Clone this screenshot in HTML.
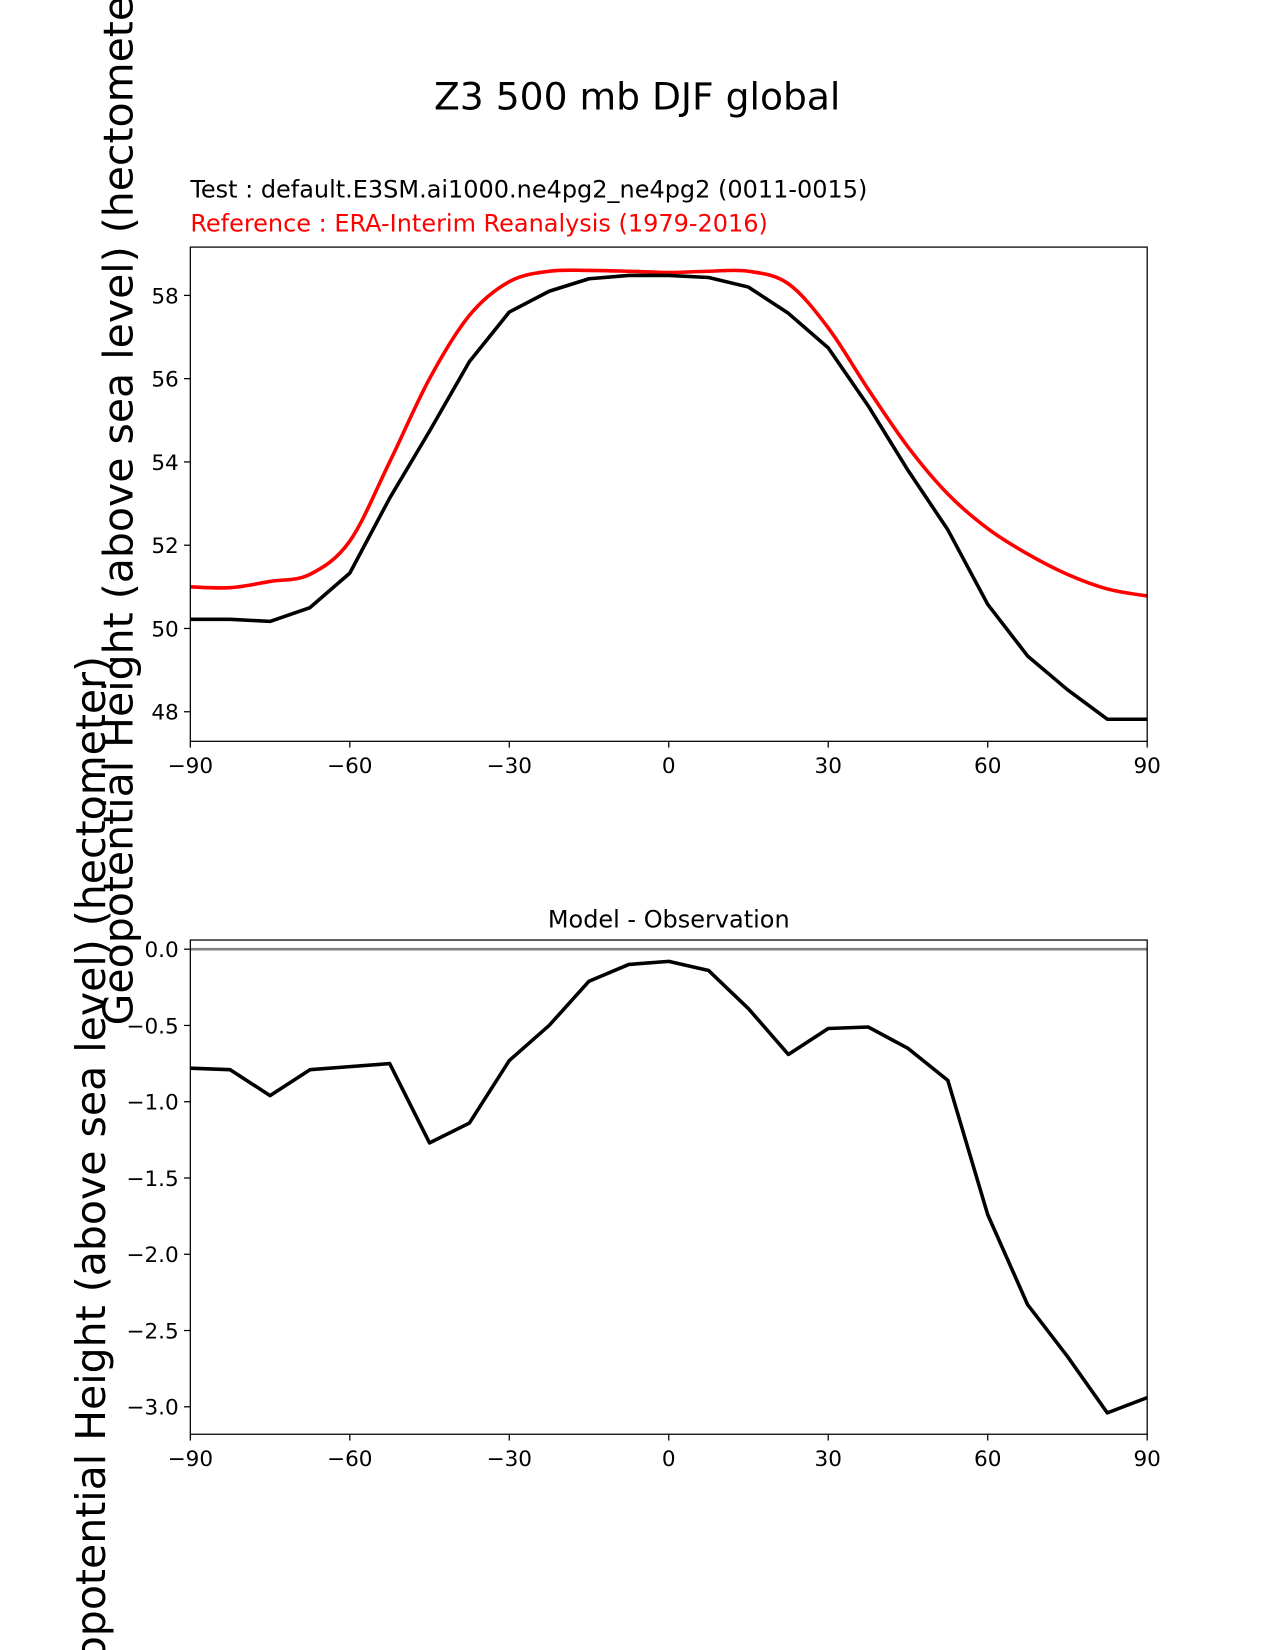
<!DOCTYPE html>
<html><head><meta charset="utf-8"><style>body{margin:0;background:#fff}svg{display:block}</style></head>
<body>
<svg id="fig" width="1275" height="1650" xmlns="http://www.w3.org/2000/svg" font-family="DejaVu Sans, Liberation Sans, sans-serif">
<rect width="1275" height="1650" fill="#fff"/>
<g transform="scale(1.0515)">
<text x="606" y="104" font-size="35.8" text-anchor="middle">Z3 500 mb DJF global</text>
<text x="181" y="188" font-size="22.8">Test : default.E3SM.ai1000.ne4pg2_ne4pg2 (0011-0015)</text>
<text x="181" y="220" font-size="22.8" fill="#ff0000">Reference : ERA-Interim Reanalysis (1979-2016)</text>
<text x="636" y="882" font-size="22.8" text-anchor="middle">Model - Observation</text>
<text transform="translate(126,470) rotate(-90)" font-size="39" text-anchor="middle">Geopotential Height (above sea level) (hectometer)</text>
<text transform="translate(100,1129) rotate(-90)" font-size="39" text-anchor="middle">Geopotential Height (above sea level) (hectometer)</text>
<g id="top"></g><g id="bot"></g>
</g>
</svg>
<script>
const lats = [-90,-82.5,-75,-67.5,-60,-52.5,-45,-37.5,-30,-22.5,-15,-7.5,0,7.5,15,22.5,30,37.5,45,52.5,60,67.5,75,82.5,90];
const testVals = [50.22,50.22,50.17,50.5,51.33,53.13,54.74,56.41,57.6,58.1,58.4,58.48,58.48,58.43,58.2,57.57,56.74,55.35,53.8,52.37,50.58,49.34,48.53,47.82,47.82];
const refVals = [51.0,50.98,51.13,51.3,52.1,54.0,56.0,57.52,58.33,58.58,58.6,58.58,58.55,58.58,58.58,58.28,57.22,55.75,54.36,53.23,52.4,51.79,51.3,50.95,50.78];
const diffVals = [-0.78,-0.79,-0.96,-0.79,-0.77,-0.75,-1.27,-1.14,-0.73,-0.5,-0.21,-0.1,-0.08,-0.14,-0.39,-0.69,-0.52,-0.51,-0.65,-0.86,-1.74,-2.33,-2.67,-3.04,-2.94];
const xTicks = [-90,-60,-30,0,30,60,90];
const xTickLabels = ["\u221290","\u221260","\u221230","0","30","60","90"];
const topYTicks = [48,50,52,54,56,58];
const botYTicks = [0,-0.5,-1,-1.5,-2,-2.5,-3];
const botYTickLabels = ["0.0","\u22120.5","\u22121.0","\u22121.5","\u22122.0","\u22122.5","\u22123.0"];
const NS="http://www.w3.org/2000/svg";
function mk(g,t,a){const e=document.createElementNS(NS,t);for(const k in a)e.setAttribute(k,a[k]);g.appendChild(e);return e;}
const X0=181,X1=1091;
const sx=v=>X0+(v+90)/180*(X1-X0);
function axes(g,top,bot,ymin,ymax,yt,ytl,name){
  const sy=v=>bot-(v-ymin)/(ymax-ymin)*(bot-top);
  xTicks.forEach((t,i)=>{
    const l=mk(g,'line',{x1:sx(t),x2:sx(t),y1:bot,y2:bot+6,stroke:'#000','stroke-width':1.2});
    
    
    const tx=mk(g,'text',{x:sx(t),y:bot+30,'font-size':20.5,'text-anchor':'middle'});tx.textContent=xTickLabels[i];
    
    
  });
  yt.forEach((t,i)=>{
    const l=mk(g,'line',{x1:X0-6,x2:X0,y1:sy(t),y2:sy(t),stroke:'#000','stroke-width':1.2});
    
    
    const tx=mk(g,'text',{x:X0-11,y:sy(t)+7.5,'font-size':20.5,'text-anchor':'end'});tx.textContent=ytl[i];
    
    
  });
  return sy;
}
function poly(g,vals,sy,color,name,smooth){
  let d;
  const p=lats.map((l,i)=>[sx(l),sy(vals[i])]);
  if(!smooth){d='M'+p.map(q=>q.join(',')).join('L');}
  else{d='M'+p[0].join(',');for(let i=0;i<p.length-1;i++){const a=p[Math.max(0,i-1)],b=p[i],c=p[i+1],e=p[Math.min(p.length-1,i+2)];
    d+='C'+(b[0]+(c[0]-a[0])/6)+','+(b[1]+(c[1]-a[1])/6)+' '+(c[0]-(e[0]-b[0])/6)+','+(c[1]-(e[1]-b[1])/6)+' '+c[0]+','+c[1];}}
  const e=mk(g,'path',{d:d,fill:'none',stroke:color,'stroke-width':3.4,'stroke-linejoin':'round'});
  
  
}
const gt=document.getElementById('top');
const syT=axes(gt,235,705,47.29,59.16,topYTicks,topYTicks.map(String),'top');
poly(gt,refVals,syT,'#ff0000','reference-line',true);
poly(gt,testVals,syT,'#000','test-line',false);
const f1=mk(gt,'rect',{x:X0,y:235,width:X1-X0,height:470,fill:'none',stroke:'#000','stroke-width':1.2});


const gb=document.getElementById('bot');
const syB=axes(gb,894,1364,-3.18,0.06,botYTicks,botYTickLabels,'bottom');
const z=mk(gb,'line',{x1:X0,x2:X1,y1:syB(0),y2:syB(0),stroke:'#808080','stroke-width':2.4});


poly(gb,diffVals,syB,'#000','difference-line',false);
const f2=mk(gb,'rect',{x:X0,y:894,width:X1-X0,height:470,fill:'none',stroke:'#000','stroke-width':1.2});


</script>
</body></html>
